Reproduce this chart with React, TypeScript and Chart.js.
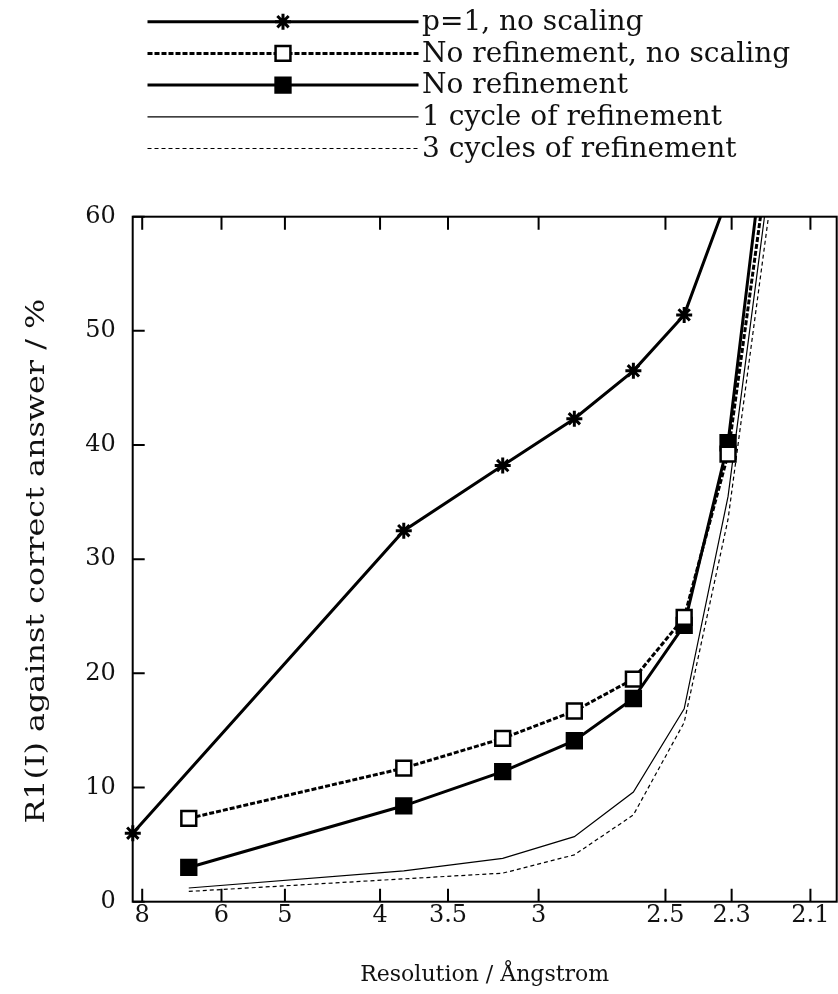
import React, { useEffect, useRef } from 'react';
import { Chart, registerables } from 'chart.js';

Chart.register(...registerables);

// Resolution (Å) of each shell and R1(I) values (%)
const starResolutions = [8.33, 3.81, 3.18, 2.84, 2.61, 2.44, 2.31];
const p1NoScaling = [6.0, 32.5, 38.2, 42.3, 46.5, 51.4, 61.8];

const resolutions = [6.69, 3.81, 3.18, 2.84, 2.61, 2.44, 2.31, 2.2];
const noRefNoScaling = [7.3, 11.7, 14.3, 16.7, 19.5, 24.9, 39.2, 65.6];
const noRefinement = [3.0, 8.4, 11.4, 14.1, 17.8, 24.2, 40.2, 70.0];
const oneCycle = [1.2, 2.7, 3.8, 5.7, 9.6, 16.9, 35.5, 63.2];
const threeCycles = [0.9, 2.0, 2.5, 4.1, 7.6, 15.7, 33.5, 60.5];

const xTickResolutions = [8, 6, 5, 4, 3.5, 3, 2.5, 2.3, 2.1];
const seriesLabels = [
  'p=1, no scaling',
  'No refinement, no scaling',
  'No refinement',
  '1 cycle of refinement',
  '3 cycles of refinement',
];
const xTitle = 'Resolution / Ångstrom';
const yTitle = 'R1(I) against correct answer / %';

const FONT = "'DejaVu Serif', serif";

const toPoints = (res: number[], vals: number[]) =>
  res.map((d, i) => ({ x: 1 / d, y: vals[i] }));

function drawMarker(ctx: CanvasRenderingContext2D, style: string, x: number, y: number, r: number, bw: number, fill: string) {
  ctx.save();
  ctx.lineWidth = bw;
  ctx.strokeStyle = '#000';
  ctx.setLineDash([]);
  if (style === 'star') {
    ctx.beginPath();
    const c = Math.SQRT1_2 * r;
    ctx.moveTo(x - r, y); ctx.lineTo(x + r, y);
    ctx.moveTo(x, y - r); ctx.lineTo(x, y + r);
    ctx.moveTo(x - c, y - c); ctx.lineTo(x + c, y + c);
    ctx.moveTo(x - c, y + c); ctx.lineTo(x + c, y - c);
    ctx.stroke();
  } else if (style === 'rect') {
    const s = Math.SQRT1_2 * r;
    ctx.fillStyle = fill;
    ctx.beginPath();
    ctx.rect(x - s, y - s, 2 * s, 2 * s);
    ctx.fill();
    ctx.stroke();
  }
  ctx.restore();
}

const framePlugin = {
  id: 'frameAndLegend',
  afterDraw(chart: any) {
    const { ctx, chartArea, scales } = chart;
    const { left, right, top, bottom } = chartArea;
    const xs = scales.x;
    const ys = scales.y;
    ctx.save();
    ctx.strokeStyle = '#000';
    ctx.lineWidth = 2;
    ctx.setLineDash([]);
    ctx.strokeRect(left, top, right - left, bottom - top);
    ctx.beginPath();
    xs.ticks.forEach((t: any) => {
      const px = xs.getPixelForValue(t.value);
      ctx.moveTo(px, bottom);
      ctx.lineTo(px, bottom - 13);
      ctx.moveTo(px, top);
      ctx.lineTo(px, top + 13);
    });
    ys.ticks.forEach((t: any) => {
      const py = ys.getPixelForValue(t.value);
      ctx.moveTo(left, py);
      ctx.lineTo(left + 12, py);
    });
    ctx.stroke();

    // y axis title (slightly stretched along its length, as in the original)
    ctx.save();
    ctx.translate(37, (top + bottom) / 2 + 2);
    ctx.rotate(-Math.PI / 2);
    ctx.scale(1.2, 1);
    ctx.fillStyle = '#111';
    ctx.font = `26.5px ${FONT}`;
    ctx.textAlign = 'center';
    ctx.textBaseline = 'middle';
    ctx.fillText(yTitle, 0, 0);
    ctx.restore();

    // legend
    const x0 = 147.5, x1 = 418.5, xm = 283, xt = 422;
    chart.data.datasets.forEach((ds: any, i: number) => {
      const y = 21.7 + i * 31.7;
      ctx.save();
      ctx.strokeStyle = '#000';
      ctx.lineWidth = ds.borderWidth;
      ctx.setLineDash(ds.borderDash || []);
      ctx.beginPath();
      ctx.moveTo(x0, y);
      ctx.lineTo(x1, y);
      ctx.stroke();
      ctx.restore();
      if (ds.pointRadius > 0) {
        drawMarker(ctx, ds.pointStyle, xm, y, ds.pointRadius, ds.pointBorderWidth, ds.pointBackgroundColor);
      }
      ctx.fillStyle = '#111';
      ctx.font = `28px ${FONT}`;
      ctx.textAlign = 'left';
      ctx.textBaseline = 'middle';
      ctx.fillText(seriesLabels[i], xt, y + 1);
    });
    ctx.restore();
  },
};

export default function App() {
  const ref = useRef<HTMLCanvasElement | null>(null);
  useEffect(() => {
    document.body.style.margin = '0';
    const canvas = ref.current;
    if (!canvas) return;
    const clip = { left: 20, top: 0, right: 0, bottom: 20 };
    const chart = new Chart(canvas, {
      type: 'line',
      data: {
        datasets: [
          {
            label: seriesLabels[0],
            data: toPoints(starResolutions, p1NoScaling),
            borderColor: '#000',
            borderWidth: 3,
            pointStyle: 'star',
            pointRadius: 8,
            pointBorderWidth: 3,
            pointBorderColor: '#000',
            pointBackgroundColor: '#000',
            fill: false,
            tension: 0,
            clip,
          },
          {
            label: seriesLabels[1],
            data: toPoints(resolutions, noRefNoScaling),
            borderColor: '#000',
            borderWidth: 3,
            borderDash: [5, 2],
            pointStyle: 'rect',
            pointRadius: 10.5,
            pointBorderWidth: 2.5,
            pointBorderColor: '#000',
            pointBackgroundColor: '#fff',
            fill: false,
            tension: 0,
            clip,
          },
          {
            label: seriesLabels[2],
            data: toPoints(resolutions, noRefinement),
            borderColor: '#000',
            borderWidth: 3,
            pointStyle: 'rect',
            pointRadius: 10.5,
            pointBorderWidth: 2.5,
            pointBorderColor: '#000',
            pointBackgroundColor: '#000',
            fill: false,
            tension: 0,
            clip,
          },
          {
            label: seriesLabels[3],
            data: toPoints(resolutions, oneCycle),
            borderColor: '#000',
            borderWidth: 1.2,
            pointRadius: 0,
            fill: false,
            tension: 0,
            clip,
          },
          {
            label: seriesLabels[4],
            data: toPoints(resolutions, threeCycles),
            borderColor: '#000',
            borderWidth: 1.2,
            borderDash: [4, 3],
            pointRadius: 0,
            fill: false,
            tension: 0,
            clip,
          },
        ],
      },
      options: {
        responsive: false,
        animation: false,
        layout: { autoPadding: false, padding: { top: 216.7, right: 1.3, left: 0, bottom: 0 } },
        plugins: { legend: { display: false }, tooltip: { enabled: false } },
        scales: {
          x: {
            type: 'linear',
            min: 0.12,
            max: 0.49,
            grid: { display: false, drawTicks: false },
            border: { display: false },
            afterBuildTicks: (scale: any) => {
              scale.ticks = xTickResolutions.map((d) => ({ value: 1 / d }));
            },
            afterFit: (scale: any) => {
              scale.height = 994 - 901.7;
              scale.paddingLeft = 0;
              scale.paddingRight = 0;
            },
            ticks: {
              autoSkip: false,
              maxRotation: 0,
              padding: 0,
              color: '#111',
              font: { family: FONT, size: 24 },
              callback: (v: any) => String(+(1 / Number(v)).toFixed(1)),
            },
            title: {
              display: true,
              text: xTitle,
              color: '#111',
              font: { family: FONT, size: 22 },
              padding: { top: 0, bottom: 5.8 },
            },
          },
          y: {
            type: 'linear',
            min: 0,
            max: 60,
            grid: { display: false, drawTicks: false },
            border: { display: false },
            afterFit: (scale: any) => {
              scale.width = 132.7;
              scale.paddingTop = 0;
              scale.paddingBottom = 0;
            },
            ticks: {
              stepSize: 10,
              padding: 17,
              color: '#111',
              font: { family: FONT, size: 24 },
            },
            title: { display: false, text: yTitle },
          },
        },
      },
      plugins: [framePlugin],
    } as any);
    return () => chart.destroy();
  }, []);
  return (
    <div style={{ width: 838, height: 994 }}>
      <canvas ref={ref} width={838} height={994} />
    </div>
  );
}
